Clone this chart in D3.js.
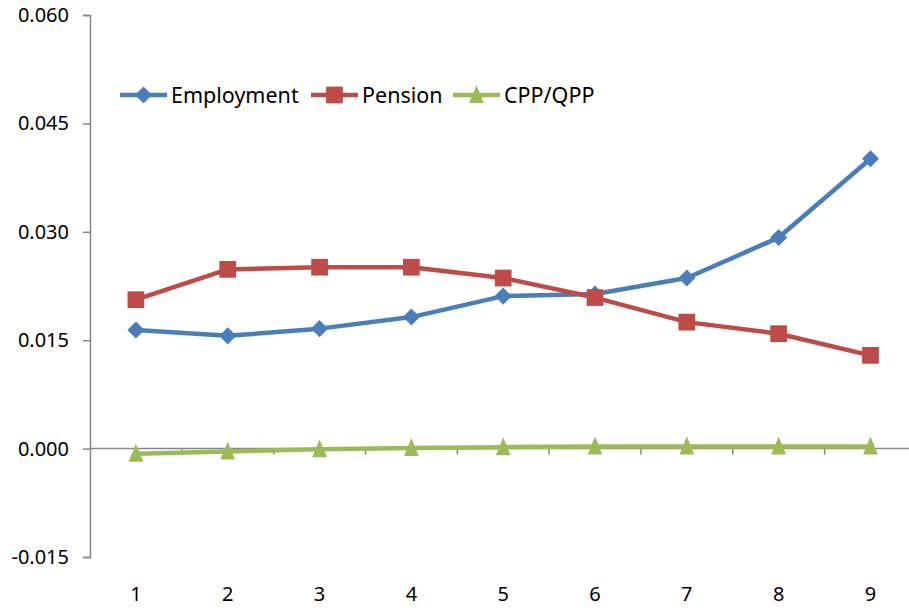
<!DOCTYPE html>
<html>
<head>
<meta charset="utf-8">
<script src="https://cdn.jsdelivr.net/npm/d3@7"></script>
<style>
  body { margin: 0; background: #fff; }
  svg { display: block; font-family: "Noto Sans", sans-serif; }
</style>
</head>
<body>
<svg id="chart" width="909" height="608"></svg>
<script>
// Data
let categories = [1, 2, 3, 4, 5, 6, 7, 8, 9]
let employment = [0.0164, 0.0156, 0.0166, 0.0182, 0.0211, 0.0214, 0.0236, 0.0292, 0.0401]
let pension = [0.0206, 0.0248, 0.0251, 0.0251, 0.0236, 0.0209, 0.0175, 0.0159, 0.0129]
let cppQpp = [-0.0007, -0.0004, -0.0001, 0.0001, 0.0002, 0.0003, 0.0003, 0.0003, 0.0003]
let yTicks = [-0.015, 0.000, 0.015, 0.030, 0.045, 0.060]

let series = [
    {'name': 'Employment', 'values': employment, 'color': '#4A7EBB', 'marker': 'diamond'},
    {'name': 'Pension', 'values': pension, 'color': '#BE4B48', 'marker': 'square'},
    {'name': 'CPP/QPP', 'values': cppQpp, 'color': '#9BBB59', 'marker': 'triangle'}
]

let svg = d3.select('#chart')
let axisColor = '#868686'

// Scales
let xScale = d3.scaleBand(categories, [90, 916.4]).padding(0)
let yScale = d3.scaleLinear([-0.015, 0.060], [557, 15])
let xc = (d) => xScale(d) + xScale.bandwidth() / 2

// Excel-like triangle: a bit taller than wide
let tallTriangle = {
    draw: (context, size) => {
        let w = Math.sqrt(size) * 0.66, h = Math.sqrt(size) * 0.8
        context.moveTo(0, -h * 0.55)
        context.lineTo(w / 2, h * 0.45)
        context.lineTo(-w / 2, h * 0.45)
        context.closePath()
    }
}

let symbolFor = {
    'diamond': d3.symbol(d3.symbolDiamond2 || d3.symbolDiamond, 185),
    'square': d3.symbol(d3.symbolSquare, 280),
    'triangle': d3.symbol(tallTriangle, 500)
}

// Y axis
let fmt = d3.format('.3f')
let yAxis = d3.axisLeft(yScale).tickValues(yTicks).tickSizeOuter(0).tickSize(7).tickPadding(14)
    .tickFormat((d) => d < 0 ? '-' + fmt(-d) : fmt(d))
let yG = svg.append('g').attr('transform', 'translate(90,0)').call(yAxis)
yG.attr('font-family', null).attr('font-size', null)
yG.select('.domain').attr('stroke', axisColor).attr('stroke-width', 1.5)
yG.selectAll('.tick line').attr('stroke', axisColor).attr('stroke-width', 1.5)
yG.selectAll('.tick text').style('font-size', '20px').attr('fill', '#000')

// X axis at zero, ticks between categories
let xBounds = categories.map((d) => xScale(d) + xScale.bandwidth()).slice(0, -1)
let xG = svg.append('g')
xG.append('line')
    .attr('x1', 90).attr('x2', 916.4)
    .attr('y1', yScale(0)).attr('y2', yScale(0))
    .attr('stroke', axisColor).attr('stroke-width', 1.5)
xG.selectAll('line.tick').data(xBounds).join('line')
    .attr('class', 'tick')
    .attr('x1', (d) => d).attr('x2', (d) => d)
    .attr('y1', yScale(0)).attr('y2', yScale(0) + 6)
    .attr('stroke', axisColor).attr('stroke-width', 1.5)
xG.selectAll('text').data(categories).join('text')
    .attr('x', (d) => xc(d))
    .attr('y', 601)
    .attr('text-anchor', 'middle')
    .style('font-size', '20px')
    .text((d) => d)

// Lines and markers
let line = d3.line().x((d, i) => xc(categories[i])).y((d) => yScale(d))

series.forEach((s) => {
    let g = svg.append('g')
    g.append('path')
        .attr('d', line(s.values))
        .attr('fill', 'none')
        .attr('stroke', s.color)
        .attr('stroke-width', 4.5)
        .attr('stroke-linejoin', 'round')
    g.selectAll('path.marker').data(s.values).join('path')
        .attr('class', 'marker')
        .attr('d', symbolFor[s.marker])
        .attr('transform', (d, i) => `translate(${xc(categories[i])},${yScale(d)})`)
        .attr('fill', s.color)
})

// Legend
let legendX = [120, 311, 453]
let legendY = 95
series.forEach((s, i) => {
    let g = svg.append('g').attr('transform', `translate(${legendX[i]},${legendY})`)
    g.append('line').attr('x1', 0).attr('x2', 47).attr('y1', 0).attr('y2', 0)
        .attr('stroke', s.color).attr('stroke-width', 4.5)
    g.append('path').attr('d', symbolFor[s.marker]).attr('transform', 'translate(23.5,0)').attr('fill', s.color)
    g.append('text').attr('x', 51).attr('y', 7.5).style('font-size', '21.5px').text(s.name)
})
</script>
</body>
</html>
